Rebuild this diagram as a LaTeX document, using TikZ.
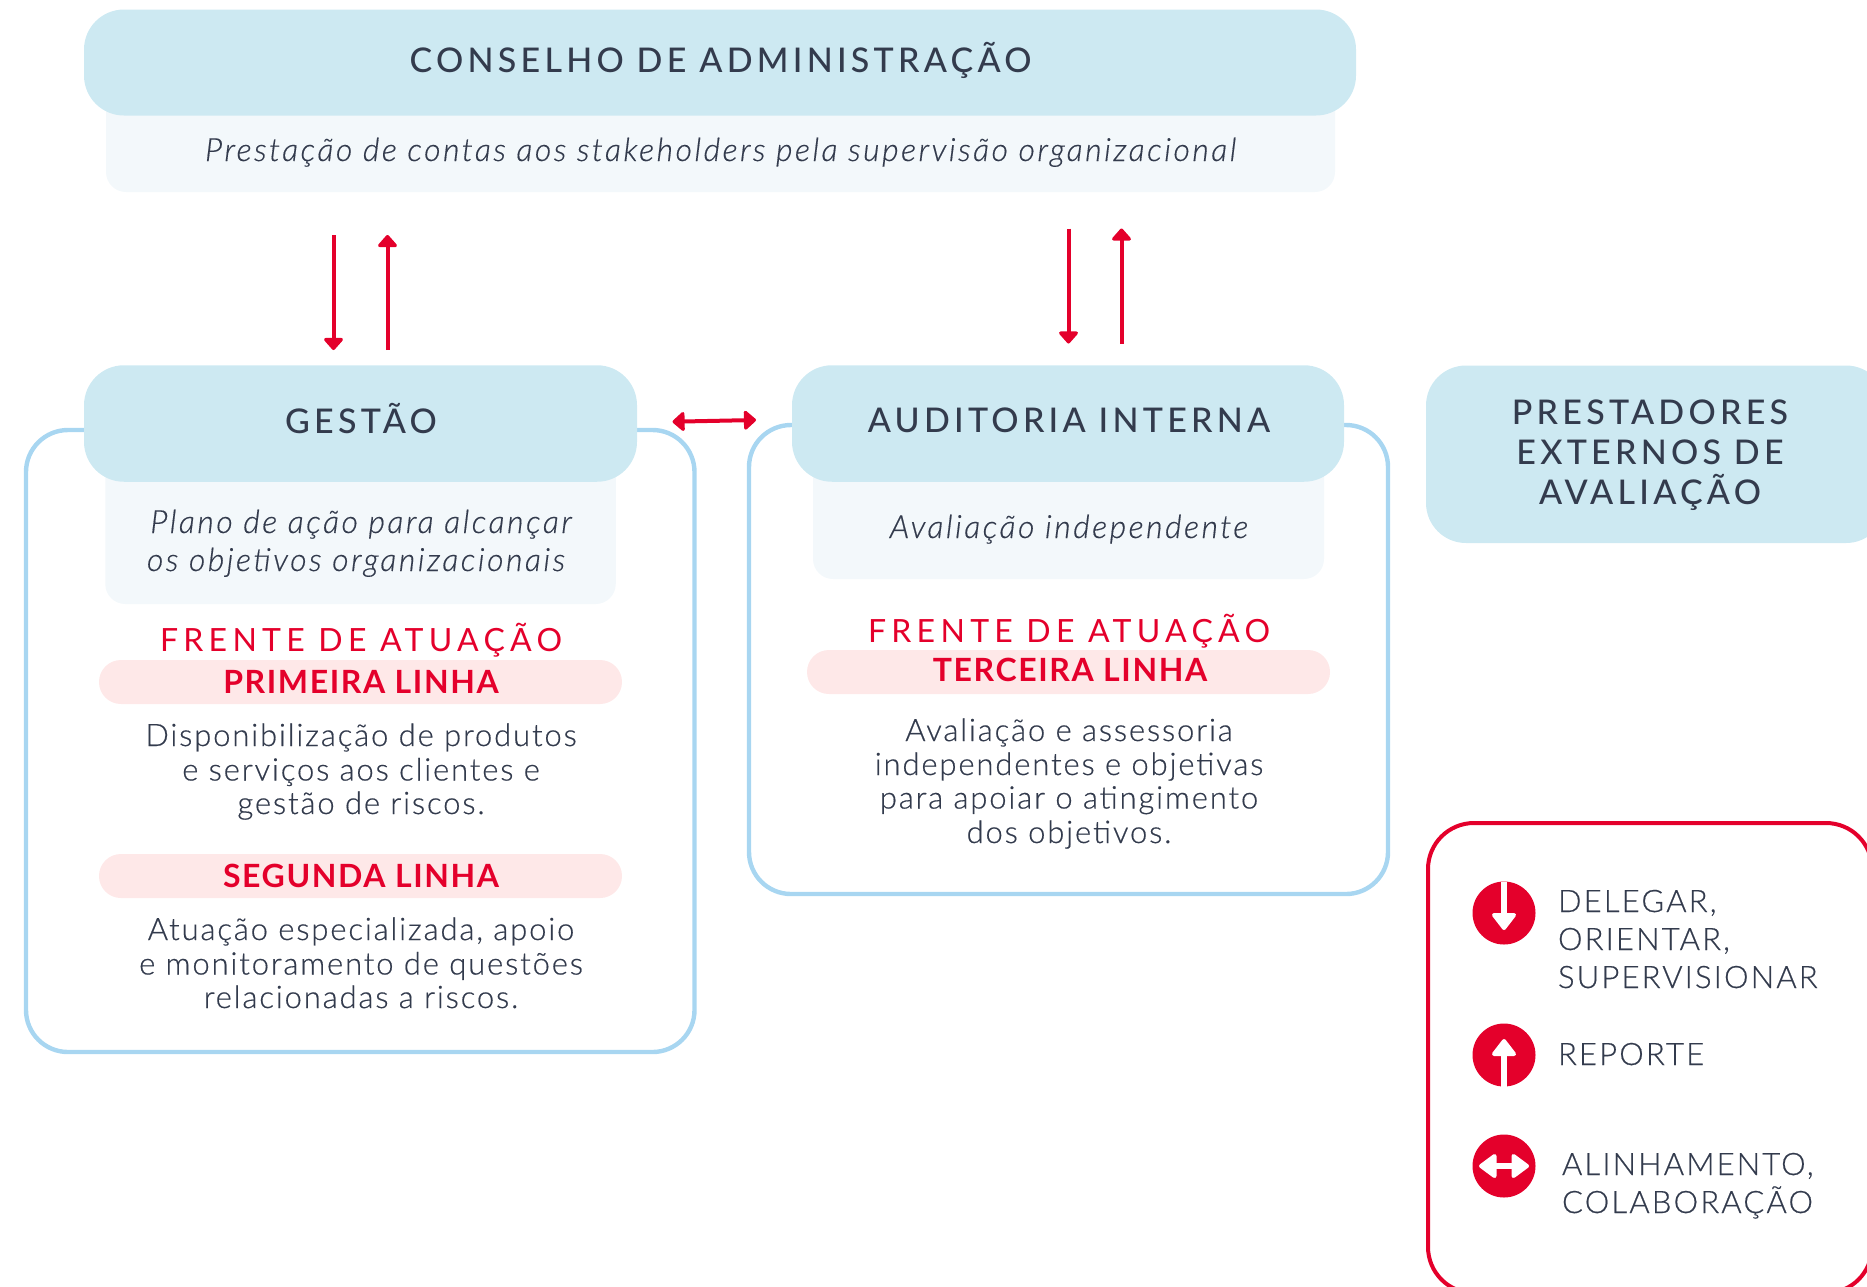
\documentclass[tikz,border=0pt]{standalone}
\usepackage{fontspec}
\usetikzlibrary{arrows.meta}
\setmainfont{Lato}
\newfontfamily\fHead[LetterSpace=12.5]{Lato Medium}
\newfontfamily\fRed[LetterSpace=16.5]{Lato}
\newfontfamily\fBody[LetterSpace=6,FakeBold=0.5]{Lato Light}
\newfontfamily\fLeg[LetterSpace=7,FakeBold=0.5]{Lato Light}
\newfontfamily\fBand[LetterSpace=5]{Lato}
\newfontfamily\fItal[LetterSpace=7.7,FakeBold=0.4]{Lato Light}
\definecolor{ink}{HTML}{333B4D}
\definecolor{headblue}{HTML}{CDE9F2}
\definecolor{subblue}{HTML}{F3F8FB}
\definecolor{lineblue}{HTML}{A8D6F1}
\definecolor{brandred}{HTML}{E4002B}
\definecolor{bandpink}{HTML}{FEE8E8}
\tikzset{
  box/.style={rectangle,inner sep=0,outer sep=0},
  headbox/.style={box,fill=headblue,rounded corners=40pt},
  subbox/.style={box,fill=subblue,rounded corners=20pt},
  band/.style={box,fill=bandpink,rounded corners=21.9pt},
  frame/.style={box,draw=lineblue,line width=4.4pt,rounded corners=42pt},
  legendframe/.style={box,draw=brandred,line width=4pt,rounded corners=46pt},
  txt/.style={anchor=base,inner sep=0,outer sep=0,text=ink},
  headtxt/.style={txt,font=\fHead\fontsize{34}{40}\selectfont},
  subtxt/.style={txt,font=\fItal\fontsize{32}{38}\itshape\selectfont},
  redtxt/.style={txt,text=brandred,font=\fRed\fontsize{32}{38}\selectfont},
  bandtxt/.style={txt,text=brandred,font=\fBand\fontsize{32}{38}\bfseries\selectfont},
  bodytxt/.style={txt,font=\fBody\fontsize{31}{38}\selectfont},
  legtxt/.style={txt,anchor=base west,font=\fLeg\fontsize{31}{38}\selectfont},
  link/.style={draw=brandred,line width=4pt,-{Triangle[length=13pt,width=22pt,round]}},
  bilink/.style={draw=brandred,line width=4pt,{Triangle[length=13pt,width=22pt,round]}-{Triangle[length=13pt,width=22pt,round]}},
  dot/.style={circle,fill=brandred,minimum size=63pt,inner sep=0,outer sep=0},
  glyph/.style={fill=white,draw=white,line width=4pt,line join=round},
  stem/.style={draw=white,line width=6pt},
}
\begin{document}
\begin{tikzpicture}[x=1pt,y=-1pt]
\useasboundingbox (0,0) rectangle (1867,1286);
\clip (0,0) rectangle (1867,1286);
% frames
\node[frame,minimum width=668.5pt,minimum height=622pt] (gframe) at (360.25,741) {};
\node[frame,minimum width=639pt,minimum height=469pt] (aframe) at (1068.5,659.5) {};
\node[legendframe,minimum width=444pt,minimum height=470pt] (legend) at (1650,1058) {};
% council
\node[subbox,minimum width=1229pt,minimum height=120pt] (csub) at (720.5,132) {};
\node[headbox,minimum width=1272pt,minimum height=106pt] (chead) at (720,62.5) {};
\node[headtxt] (t1) at (720.5,72) {CONSELHO DE ADMINISTRAÇÃO};
\node[subtxt] (t2) at (720.5,161) {Prestação de contas aos stakeholders pela supervisão organizacional};
% gestao
\node[subbox,minimum width=510.5pt,minimum height=160pt] (gsub) at (360.5,524) {};
\node[headbox,minimum width=553pt,minimum height=116.5pt] (ghead) at (360.5,423.5) {};
\node[headtxt] (t3) at (361,433.5) {GESTÃO};
\node[subtxt] (t4) at (361,533) {Plano de ação para alcançar};
\node[subtxt] (t5) at (356,571) {os objetivos organizacionais};
\node[redtxt] (t6) at (361,651) {FRENTE DE ATUAÇÃO};
\node[band,minimum width=523pt,minimum height=44pt] (b1) at (360.5,682) {};
\node[bandtxt] (t7) at (361,693) {PRIMEIRA LINHA};
\node[bodytxt] (t8) at (361,746) {Disponibilização de produtos};
\node[bodytxt] (t9) at (361,780.5) {e serviços aos clientes e};
\node[bodytxt] (t10) at (361,814) {gestão de riscos.};
\node[band,minimum width=523pt,minimum height=44pt] (b2) at (360.5,876) {};
\node[bandtxt] (t11) at (361,887) {SEGUNDA LINHA};
\node[bodytxt] (t12) at (361,940) {Atuação especializada, apoio};
\node[bodytxt] (t13) at (361,974.5) {e monitoramento de questões};
\node[bodytxt] (t14) at (361,1008) {relacionadas a riscos.};
% auditoria
\node[subbox,minimum width=511pt,minimum height=135pt] (asub) at (1068.5,511.5) {};
\node[headbox,minimum width=552pt,minimum height=116.5pt] (ahead) at (1068,423.5) {};
\node[headtxt] (t15) at (1069,432.5) {AUDITORIA INTERNA};
\node[subtxt] (t16) at (1069,538) {Avaliação independente};
\node[redtxt] (t17) at (1069,642) {FRENTE DE ATUAÇÃO};
\node[band,minimum width=523pt,minimum height=44pt] (b3) at (1068.5,672) {};
\node[bandtxt] (t18) at (1070,681) {TERCEIRA LINHA};
\node[bodytxt] (t19) at (1069,741) {Avaliação e assessoria};
\node[bodytxt] (t20) at (1069,775) {independentes e objetivas};
\node[bodytxt] (t21) at (1069,808.5) {para apoiar o atingimento};
\node[bodytxt] (t22) at (1069,843) {dos objetivos.};
% prestadores
\node[headbox,minimum width=460pt,minimum height=177.5pt] (phead) at (1656,454.25) {};
\node[headtxt] (t23) at (1650,424) {PRESTADORES};
\node[headtxt] (t24) at (1650,464) {EXTERNOS DE};
\node[headtxt] (t25) at (1650,504) {AVALIAÇÃO};
% arrows
\coordinate (d1a) at (333.5,235); \coordinate (d1b) at (333.5,350);
\coordinate (u1a) at (387.5,350);   \coordinate (u1b) at (387.5,235);
\coordinate (d2a) at (1068.5,228.5); \coordinate (d2b) at (1068.5,343.5);
\coordinate (u2a) at (1121.5,343.5); \coordinate (u2b) at (1121.5,228.5);
\coordinate (ba) at (672.5,421.7); \coordinate (bb) at (756,420);
\draw[link] (d1a) -- (d1b);
\draw[link] (u1a) -- (u1b);
\draw[link] (d2a) -- (d2b);
\draw[link] (u2a) -- (u2b);
\draw[bilink] (ba) -- (bb);
% legend
\node[dot] (i1) at (1504,913) {};
\draw[stem] (1504,881.5) -- (1504,918);
\draw[glyph] (1494,915) -- (1514,915) -- (1504,928) -- cycle;
\node[legtxt] (l1) at (1558,912) {DELEGAR,};
\node[legtxt] (l2) at (1558,950) {ORIENTAR,};
\node[legtxt] (l3) at (1558,988) {SUPERVISIONAR};
\node[dot] (i2) at (1504,1055) {};
\draw[stem] (1504,1086.5) -- (1504,1050);
\draw[glyph] (1494,1054) -- (1514,1054) -- (1504,1041) -- cycle;
\node[legtxt] (l4) at (1558,1065) {REPORTE};
\node[dot] (i3) at (1504,1166) {};
\draw[white,line width=5.5pt] (1495,1166) -- (1513,1166);
\draw[glyph] (1494.5,1156) -- (1494.5,1176) -- (1481,1166) -- cycle;
\draw[glyph] (1513.5,1156) -- (1513.5,1176) -- (1527,1166) -- cycle;
\node[legtxt] (l5) at (1562,1175) {ALINHAMENTO,};
\node[legtxt] (l6) at (1562,1213) {COLABORAÇÃO};
\end{tikzpicture}
\end{document}
